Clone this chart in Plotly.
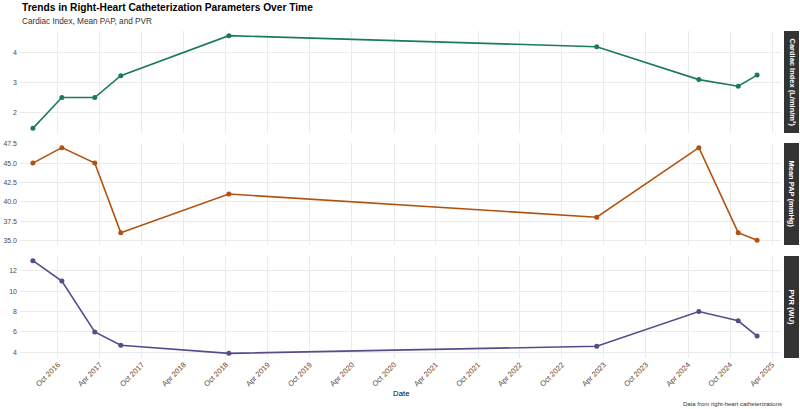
import plotly.graph_objects as go

dates = ["2016-06-14", "2016-10-18", "2017-03-10", "2017-07-01", "2018-10-14",
         "2023-03-01", "2024-05-18", "2024-11-05", "2025-01-26"]
cardiac_index = [1.47, 2.5, 2.5, 3.23, 4.57, 4.2, 3.1, 2.88, 3.25]
mean_pap = [45, 47, 45, 36, 41, 38, 47, 36, 35]
pvr = [13, 11, 6, 4.7, 3.9, 4.6, 8.0, 7.1, 5.6]

panel_labels = ["Cardiac Index (L/min/m²)", "Mean PAP (mmHg)", "PVR (WU)"]
colors = ["#1b7a5a", "#b3520f", "#574b8c"]
series = [cardiac_index, mean_pap, pvr]

FONT = "Liberation Sans, Arial, sans-serif"
W, H = 800, 409
ml, mr, mt, mb = 20, 19, 31, 51
ph = H - mt - mb

def py(p):
    return (H - mb - p) / ph

def px(p):
    return (p - ml) / (W - ml - mr)

panels_px = [(31, 133), (143, 245), (256, 358)]

fig = go.Figure()
for i, (vals, col) in enumerate(zip(series, colors)):
    fig.add_trace(go.Scatter(
        x=dates, y=vals, mode="lines+markers",
        line=dict(color=col, width=1.6),
        marker=dict(color=col, size=5),
        xaxis="x" if i == 0 else f"x{i+1}",
        yaxis="y" if i == 0 else f"y{i+1}",
        showlegend=False, hoverinfo="x+y"))

def pad_range(v, frac=0.05):
    lo, hi = min(v), max(v)
    d = (hi - lo) * frac
    return [lo - d, hi + d]

xrange = ["2016-04-19", "2025-05-10"]
grid = "#ebebeb"
layout = dict(
    width=W, height=H, margin=dict(l=ml, r=mr, t=mt, b=mb, autoexpand=False),
    paper_bgcolor="white", plot_bgcolor="white",
    font=dict(family=FONT, color="#4d4d4d"),
)
ytick_specs = [
    dict(tickvals=[2, 3, 4], ticktext=["2", "3", "4"]),
    dict(tickvals=[35, 37.5, 40, 42.5, 45, 47.5],
         ticktext=["35.0", "37.5", "40.0", "42.5", "45.0", "47.5"]),
    dict(tickvals=[4, 6, 8, 10, 12], ticktext=["4", "6", "8", "10", "12"]),
]
for i in range(3):
    top, bot = panels_px[i]
    xa = "xaxis" if i == 0 else f"xaxis{i+1}"
    ya = "yaxis" if i == 0 else f"yaxis{i+1}"
    yid = "y" if i == 0 else f"y{i+1}"
    xid = "x" if i == 0 else f"x{i+1}"
    layout[xa] = dict(
        type="date", range=xrange, anchor=yid, domain=[0, 1],
        tick0="2016-10-01", dtick="M6", tickformat="%b %Y",
        showgrid=True, gridcolor=grid, gridwidth=1, zeroline=False,
        showline=False, ticks="", showticklabels=(i == 2),
        tickangle=-45, tickfont=dict(size=7.5, color="#4d4d4d"),
        automargin=False,
        matches=None if i == 0 else "x",
    )
    layout[ya] = dict(
        domain=[py(bot), py(top)], anchor=xid,
        range=pad_range(series[i]),
        tickmode="array", **ytick_specs[i],
        showgrid=True, gridcolor=grid, gridwidth=1, zeroline=False,
        showline=False, ticks="", tickfont=dict(size=7, color="#4d4d4d"),
        ticklabelstandoff=2, automargin=False,
    )
fig.update_layout(**layout)

shapes = []
annotations = []
for i, (top, bot) in enumerate(panels_px):
    shapes.append(dict(type="rect", xref="paper", yref="paper",
                       x0=px(784), x1=px(799), y0=py(bot), y1=py(top),
                       fillcolor="#333333", line=dict(width=0), layer="above"))
    annotations.append(dict(text=f"<b>{panel_labels[i]}</b>", xref="paper", yref="paper",
                            x=px(791.5), y=py((top + bot) / 2), showarrow=False,
                            textangle=90, xanchor="center", yanchor="middle",
                            font=dict(family=FONT, size=7.5, color="white")))

annotations += [
    dict(text="<b>Trends in Right-Heart Catheterization Parameters Over Time</b>",
         xref="paper", yref="paper", x=px(20), y=py(8), xanchor="left", yanchor="middle",
         showarrow=False, font=dict(family=FONT, size=10.2, color="black")),
    dict(text="Cardiac Index, Mean PAP, and PVR",
         xref="paper", yref="paper", x=px(20), y=py(22), xanchor="left", yanchor="middle",
         showarrow=False, font=dict(family=FONT, size=8.2, color="#333333")),
    dict(text="Date", xref="paper", yref="paper", x=0.5, y=py(393),
         xanchor="center", yanchor="middle", showarrow=False,
         font=dict(family=FONT, size=7.8, color="#000000")),
    dict(text="Data from right-heart catheterizations", xref="paper", yref="paper",
         x=px(784), y=py(404), xanchor="right", yanchor="middle", showarrow=False,
         font=dict(family=FONT, size=6, color="#333333")),
]
fig.update_layout(shapes=shapes, annotations=annotations)

fig.write_html("out.html")
